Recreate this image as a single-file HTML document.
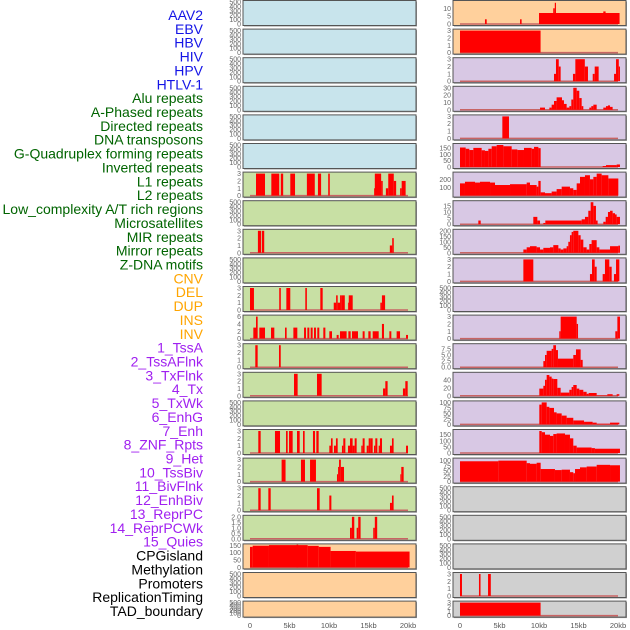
<!DOCTYPE html>
<html><head><meta charset="utf-8"><style>
html,body{margin:0;padding:0;background:#fff;width:630px;height:630px;overflow:hidden}
svg{display:block}
</style></head><body>
<svg id="chart" width="630" height="630" xmlns="http://www.w3.org/2000/svg" font-family="Liberation Sans, sans-serif"></svg>
<script>
// ===== data =====
const labelNames = ["AAV2","EBV","HBV","HIV","HPV","HTLV-1","Alu repeats","A-Phased repeats","Directed repeats","DNA transposons","G-Quadruplex forming repeats","Inverted repeats","L1 repeats","L2 repeats","Low_complexity A/T rich regions","Microsatellites","MIR repeats","Mirror repeats","Z-DNA motifs","CNV","DEL","DUP","INS","INV","1_TssA","2_TssAFlnk","3_TxFlnk","4_Tx","5_TxWk","6_EnhG","7_Enh","8_ZNF_Rpts","9_Het","10_TssBiv","11_BivFlnk","12_EnhBiv","13_ReprPC","14_ReprPCWk","15_Quies","CPGisland","Methylation","Promoters","ReplicationTiming","TAD_boundary"];
const labelGroups = [0,0,0,0,0,0,1,1,1,1,1,1,1,1,1,1,1,1,1,2,2,2,2,2,3,3,3,3,3,3,3,3,3,3,3,3,3,3,3,4,4,4,4,4];
const xTickLabels = ["0","5kb","10kb","15kb","20kb"];
const xTickValues = [0,5,10,15,20];
const emptyTicks = [0,100,200,300,400,500];
// panel y-axis maxima (0 = empty track)
const yMax = [0,0,0,0,0,0,3,0,3,0,3,6,3,3,0,3,3,3,2,150,0,0,
              14,3,3,30,3,175,270,18,200,3,0,3,9,55,100,180,105,0,0,0,3,3];
const yTicks = {3:[0,1,2,3],6:[0,2,4,6],2:[0,0.5,1,1.5,2],150:[0,50,100,150],14:[0,5,10],30:[0,10,20,30],
  175:[0,50,100,150],270:[100,200],18:[0,5,10,15],200:[0,50,100,150,200],9:[0,2.5,5,7.5],55:[0,20,40],
  100:[0,25,50,75,100],180:[0,50,100,150],105:[0,25,50,75,100]};
// segments: [startKb, endKb, value]
const seg6 = [[0.76,1.9,3],[2.7,3.7,3],[3.9,4.2,3],[5.1,5.7,3],[7.2,8.2,3],[8.6,9.0,3],[9.9,10.1,3],[15.7,15.8,1],[15.8,16.6,3],[16.6,16.8,2],[17.2,17.5,1],[17.5,18.2,3],[18.2,18.5,2],[19.0,19.2,1],[19.2,19.7,2]];
const seg8 = [[1.0,1.4,3],[1.5,1.8,3],[17.7,18.0,1],[18.0,18.2,2]];
const seg10 = [[0,0.5,3],[3.7,3.9,3],[4.6,5.1,3],[7.0,7.2,3],[8.9,9.2,3],[10.6,10.9,1],[10.9,11.1,2],[11.1,11.4,1],[11.4,11.6,2],[11.6,12.0,2],[12.4,12.5,1],[12.5,13.0,2],[16.5,16.7,1],[16.7,17.1,2]];
const seg11 = [[0.42,0.76,3],[0.76,0.97,6],[1.18,1.9,3],[2.66,3.08,3],[4.43,4.64,3],[5.49,5.99,3],[6.84,7.09,3],[7.26,7.51,3],[7.68,7.93,3],[8.1,8.35,3],[8.52,8.77,3],[9.28,9.54,3],[10.04,10.38,2],[10.97,11.22,1],[11.39,12.23,2],[12.45,12.74,2],[12.91,13.67,2],[14.26,14.51,2],[14.98,15.27,2],[15.53,16.29,2],[16.7,16.96,4],[17.64,17.89,2],[18.56,18.99,2],[19.75,20.0,1]];
const seg12 = [[0.67,0.97,3],[3.67,3.89,3]];
const seg13 = [[5.57,6.03,3],[8.48,9.07,3],[16.84,17.13,1],[17.13,17.42,2],[19.36,19.66,1],[19.66,19.96,2]];
const seg15 = [[1.05,1.35,3],[3.16,3.8,3],[4.56,4.77,3],[4.94,5.4,3],[5.95,6.29,3],[6.71,6.92,3],[7.97,8.23,3],[8.4,8.69,3],[10.04,10.25,1],[10.25,10.46,2],[10.63,10.88,1],[10.88,11.1,2],[11.64,11.81,1],[11.81,12.07,2],[12.4,12.66,1],[12.66,12.99,2],[12.99,13.25,1],[13.25,13.5,2],[14.09,14.26,1],[14.26,14.51,2],[14.77,15.02,1],[15.02,15.27,2],[15.27,15.53,2],[15.7,15.86,1],[15.86,16.12,2],[16.29,16.45,1],[16.45,16.71,2],[17.72,17.97,1],[17.97,18.18,2],[19.75,20.0,1]];
const seg16 = [[4.0,4.5,3],[6.45,6.96,3],[7.6,8.35,3],[11.01,11.15,1],[11.15,11.27,2],[11.27,11.5,3],[11.5,11.9,2],[19.03,19.15,1],[19.15,19.45,2]];
const seg17 = [[1.05,1.35,3],[2.32,2.62,3],[8.48,8.82,3],[10.04,10.3,2],[17.72,17.97,1],[17.97,18.18,2]];
const seg18 = [[12.66,12.9,1],[12.9,13.2,2],[13.5,13.7,1],[13.7,14.0,2],[15.6,15.8,1],[15.8,16.1,2]];
const seg19 = [[0,0.34,140],[0.34,2.4,148],[2.4,7.3,152],[5.9,6.1,155],[7.3,8.7,147],[8.7,10.2,140],[10.2,13.4,112],[13.4,20.2,108]];
const seg22 = [[3.16,3.38,3],[7.6,7.8,3],[10.0,20.2,7],[11.8,12.0,10],[12.0,12.15,13.5],[18.14,18.43,8]];
const seg23 = [[0,10.2,3]];
const seg24 = [[11.9,12.15,1],[12.15,12.5,3],[12.5,12.74,2],[14.3,14.6,1],[14.6,15.8,3],[15.8,16.2,2],[16.8,17.05,1],[17.05,17.55,2],[19.5,19.75,1],[19.75,20.1,3],[20.1,20.25,2]];
const seg25 = [[10.13,10.76,3],[11.31,11.6,3],[11.6,11.9,7],[11.9,12.23,12],[12.23,12.91,17],[12.91,13.16,13],[13.16,13.5,8],[13.5,13.84,3],[13.84,14.09,5],[14.09,14.34,14],[14.34,14.77,30],[14.77,15.1,26],[15.1,15.4,16],[15.4,15.61,5],[16.37,16.62,3],[16.62,16.88,5],[16.88,17.3,7],[18.14,18.48,3],[18.48,18.73,5],[18.73,18.99,6],[18.99,19.32,4]];
const seg26 = [[5.36,6.2,3]];
const seg27 = [[0,0.72,155],[0.72,1.18,145],[1.18,1.69,135],[1.69,2.74,152],[2.74,3.16,133],[3.16,3.59,128],[3.59,4.01,145],[4.01,4.64,165],[4.64,5.49,175],[5.49,6.54,165],[6.54,7.26,140],[7.26,8.1,135],[8.1,9.07,152],[9.07,9.37,145],[9.37,9.92,160],[9.92,10.21,150],[18.06,18.48,8],[18.48,19.83,15],[19.83,20.25,20]];
const seg28 = [[0,0.63,150],[0.63,1.9,170],[1.9,2.53,160],[2.53,3.8,170],[3.8,4.43,160],[4.43,6.33,130],[6.33,8.44,140],[8.44,8.86,160],[8.86,9.7,130],[9.7,9.92,110],[9.92,10.21,180],[10.21,10.76,40],[10.76,11.6,30],[11.6,12.23,50],[12.23,12.87,80],[12.87,13.92,110],[13.92,14.34,90],[14.34,14.77,70],[14.77,15.19,150],[15.19,15.82,230],[15.82,16.45,250],[16.45,16.88,200],[16.88,17.3,230],[17.3,17.93,270],[17.93,18.78,250],[18.78,20.04,210]];
const seg29 = [[2.32,2.62,3],[9.28,9.79,6],[9.79,10.13,3],[10.55,10.8,1],[10.8,15.4,3],[15.4,15.82,4],[15.82,16.24,6],[16.24,16.54,11],[16.54,16.88,18],[16.88,17.21,15],[17.21,17.42,3],[18.14,18.44,2],[18.44,18.73,6],[18.73,18.99,10],[18.99,19.32,11],[19.32,19.62,9],[19.62,19.83,8],[19.83,20.25,6]];
const seg30 = [[8.02,8.44,30],[8.44,8.86,50],[8.86,9.7,60],[9.7,10.13,50],[10.13,10.55,30],[10.55,11.39,45],[11.39,11.81,50],[11.81,12.45,70],[12.45,12.74,40],[12.74,13.08,30],[13.08,13.5,40],[13.5,13.71,60],[13.71,13.92,100],[13.92,14.13,160],[14.13,14.34,190],[14.34,14.98,200],[14.98,15.27,160],[15.27,15.61,120],[15.61,16.03,50],[16.03,16.37,30],[16.37,16.66,80],[16.66,17.3,115],[17.3,17.64,50],[17.64,18.99,30],[18.99,20.04,60],[20.04,20.25,65]];
const seg31 = [[8.02,9.28,3],[16.45,16.71,1],[16.71,17.05,3],[17.05,17.3,2],[18.06,18.35,1],[18.35,18.9,3],[18.9,19.2,2],[19.49,19.75,1],[19.75,20.17,3]];
const seg33 = [[12.57,12.74,1],[12.74,14.77,3],[14.77,14.94,2],[19.66,19.92,1],[19.92,20.25,3]];
const seg34 = [[10.55,10.76,2.5],[10.76,10.97,5],[10.97,11.6,6.7],[11.6,11.81,7.5],[11.81,12.15,9],[12.15,12.4,7],[12.4,14.34,3.5],[14.34,14.68,5],[14.68,15.27,7.3],[15.27,15.53,3]];
const seg35 = [[10.04,10.55,18],[10.55,10.76,25],[10.76,10.97,40],[10.97,11.31,52],[11.31,11.6,48],[11.6,11.81,43],[11.81,12.32,42],[12.32,12.74,20],[12.74,13.84,8],[13.84,14.13,15],[14.13,14.34,22],[14.34,14.77,27],[14.77,15.1,18],[15.1,15.61,15],[15.61,16.03,10],[16.03,16.29,5],[16.29,17.3,7],[17.3,18.65,1],[18.65,19.32,4],[19.83,20.17,4]];
const seg36 = [[10.04,10.34,90],[10.34,10.97,100],[10.97,11.31,80],[11.31,11.9,75],[11.9,12.23,55],[12.23,12.87,50],[12.87,13.5,40],[13.5,14.34,30],[14.34,15.7,18],[15.7,16.79,12],[16.79,17.3,8],[17.3,18.99,3],[18.99,20.17,8]];
const seg37 = [[10.04,10.34,180],[10.34,10.76,170],[10.76,11.39,150],[11.39,11.81,140],[11.81,12.23,155],[12.23,13.29,160],[13.29,13.92,150],[13.92,14.34,120],[14.34,14.77,60],[14.77,16.66,45],[16.66,17.08,40],[17.08,20.25,35]];
const seg38 = [[0,4.85,97],[4.85,8.44,100],[8.44,8.86,88],[8.86,9.7,85],[9.7,10.21,90],[10.21,12.02,60],[12.02,12.87,55],[12.87,13.92,57],[13.92,14.34,45],[14.34,14.56,40],[14.56,15.19,60],[15.19,16.03,68],[16.03,17.3,72],[17.3,18.99,80],[18.99,20.25,78]];
const seg42 = [[0,0.25,3],[2.4,2.6,3],[3.55,3.9,3]];
const seg43 = [[0,10.2,3]];
const segments = {6:seg6,8:seg8,10:seg10,11:seg11,12:seg12,13:seg13,15:seg15,16:seg16,17:seg17,18:seg18,19:seg19,
  22:seg22,23:seg23,24:seg24,25:seg25,26:seg26,27:seg27,28:seg28,29:seg29,30:seg30,31:seg31,33:seg33,34:seg34,
  35:seg35,36:seg36,37:seg37,38:seg38,42:seg42,43:seg43};

// ===== layout & drawing =====
const NS = "http://www.w3.org/2000/svg";
const svg = document.getElementById('chart');
function mk(tag, attrs, parent){const e=document.createElementNS(NS,tag);for(const k in attrs)e.setAttribute(k,attrs[k]);(parent||svg).appendChild(e);return e;}
const groupColors = ["#1414e6","#006400","#ffa500","#a020f0","#000000"];
const panelFill = ["#c8e4ec","#c8e0a4","#ffd09c","#d8c8e4","#d0d0d0"];
// labels
labelNames.forEach((n,i)=>{
  const t = mk('text',{x:203,y:15+i*13.86+5,'text-anchor':'end','font-size':'14',fill:groupColors[labelGroups[i]]});
  t.textContent = n;
  
  
});
function panelFillFor(i){
  if(i<6) return panelFill[0];
  if(i<19) return panelFill[1];
  if(i<24) return panelFill[2];
  if(i<39) return panelFill[3];
  if(i<41) return panelFill[2];
  return panelFill[4];
}
function fillFor(i){
  // left column: 0-5 blue, 6-18 green, 19-21 orange ; right: 22-23 orange, 24-38 purple, 39-43 gray
  if(i<6) return panelFill[0];
  if(i<19) return panelFill[1];
  if(i<24) return panelFill[2];
  if(i<39) return panelFill[3];
  return panelFill[4];
}
for(let i=0;i<44;i++){
  const col = i<22?0:1, row = i%22;
  const px = col?453:243, pw = 173;
  const py = row*28.6 + 0.5, ph = row===21?16:25;
  const x0 = col?460:250, xs = 7.9;
  const g = mk('g',{});
  
  
  mk('rect',{x:px+1,y:py+1,width:pw,height:ph,fill:'#999'},g);
  mk('rect',{x:px,y:py,width:pw,height:ph,fill:fillFor(i),stroke:'#555','stroke-width':1},g);
  const ymax = yMax[i];
  const ybot = py+ph-1.5, ytop = py+1.5;
  const yScale = v => ybot - (v/(ymax||500))*(ybot-ytop);
  const xScale = k => x0 + k*xs;
  const ticks = ymax? yTicks[ymax] : emptyTicks;
  ticks.forEach(t=>{
    const tt = mk('text',{x:px-2,y:yScale(t)+2.5,'text-anchor':'end','font-size':'7',fill:'#666'},g);
    tt.textContent = (ymax===2)? t.toFixed(1) : (ymax===9 && t!==0 && t!==5)? String(t) : (ymax===9? t.toFixed(1): String(t));
    
    
  });
  const segs = segments[i];
  if(segs){
    mk('line',{x1:xScale(0),x2:xScale(20),y1:ybot,y2:ybot,stroke:'#c86464','stroke-width':1.5},g);
    segs.forEach(s=>{
      const r = mk('rect',{x:xScale(s[0]),y:yScale(s[2]),width:Math.max(0.8,xScale(s[1])-xScale(s[0])),height:ybot-yScale(s[2]),fill:'#ff0000'},g);
      
      
    });
  }
}
// x axes
[250,460].forEach((x0,c)=>{
  xTickValues.forEach((v,j)=>{
    const t = mk('text',{x:x0+v*7.9,y:628,'text-anchor':'middle','font-size':'7.5',fill:'#555'});
    t.textContent = xTickLabels[j];
    
    
  });
});
</script>
</body></html>
